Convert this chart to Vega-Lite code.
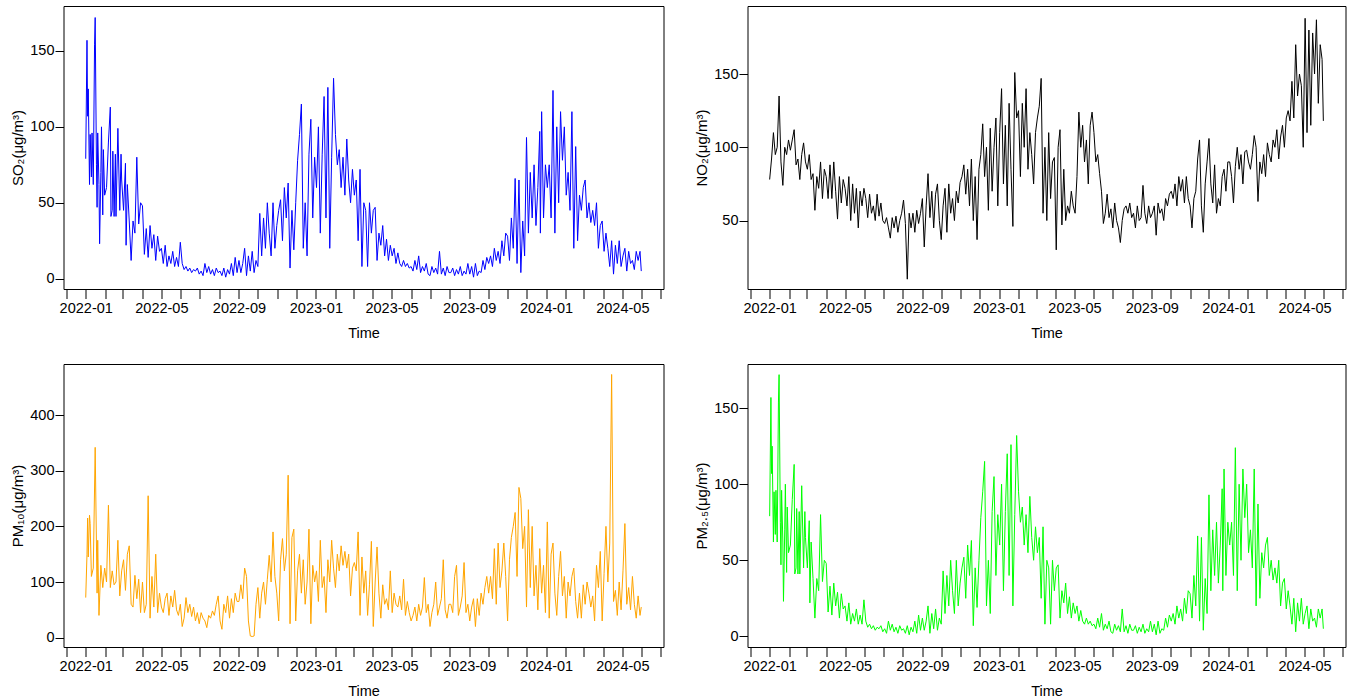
{
"$schema":"https://vega.github.io/schema/vega-lite/v6.json",
"background":"white",
"padding":{"left":9.5,"top":5,"right":0,"bottom":0},
"config":{
 "font":"Liberation Sans",
 "view":{"stroke":"black","strokeWidth":1},
 "axis":{"domain":false,"grid":false,"tickColor":"black","tickWidth":1,"labelColor":"black","labelFont":"Liberation Sans","labelFontSize":14.5,"titleFont":"Liberation Sans","titleFontSize":14.5,"titleFontWeight":"normal","titleColor":"black"},
 "axisX":{"tickSize":9.5,"labelPadding":3,"titlePadding":11,"labelOverlap":false,"labelFlush":false},
 "axisY":{"tickSize":8.5,"labelPadding":1,"titlePadding":4,"titleFontSize":15}
},
"data":{"values":[
{"t":"2022-01-01","s":79,"n":78,"p":72},
{"t":"2022-01-03","s":157,"p":150},
{"t":"2022-01-04","s":107,"n":92,"p":215},
{"t":"2022-01-05","s":125,"p":145},
{"t":"2022-01-07","s":62,"n":110,"p":220},
{"t":"2022-01-08","s":95,"p":205},
{"t":"2022-01-10","s":67,"n":95,"p":110},
{"t":"2022-01-11","s":96},
{"t":"2022-01-13","s":62,"n":100,"p":125},
{"t":"2022-01-15","s":154},
{"t":"2022-01-16","s":172,"n":135,"p":342},
{"t":"2022-01-18","s":75},
{"t":"2022-01-19","s":47,"n":90,"p":80},
{"t":"2022-01-20","s":96,"p":175},
{"t":"2022-01-22","s":62,"n":74,"p":40},
{"t":"2022-01-23","s":23},
{"t":"2022-01-25","s":70,"n":100,"p":130},
{"t":"2022-01-26","s":100},
{"t":"2022-01-28","s":42,"n":95,"p":90},
{"t":"2022-01-29","s":85},
{"t":"2022-01-31","s":55,"n":105,"p":125},
{"t":"2022-02-03","s":60,"n":98,"p":100},
{"t":"2022-02-06","s":90,"n":105,"p":238},
{"t":"2022-02-09","s":113,"n":112,"p":90},
{"t":"2022-02-10","s":41},
{"t":"2022-02-12","s":45,"n":88,"p":120},
{"t":"2022-02-13","s":84},
{"t":"2022-02-15","s":41,"n":92,"p":95},
{"t":"2022-02-17","s":82},
{"t":"2022-02-18","s":41,"n":78,"p":100},
{"t":"2022-02-21","s":99,"n":95,"p":175},
{"t":"2022-02-24","s":45,"n":103,"p":75},
{"t":"2022-02-26","s":82},
{"t":"2022-02-27","s":65,"n":90,"p":120},
{"t":"2022-03-02","s":45,"n":85,"p":140},
{"t":"2022-03-05","s":76,"n":95,"p":85},
{"t":"2022-03-06","s":22},
{"t":"2022-03-08","s":62,"n":78,"p":150},
{"t":"2022-03-11","s":38,"n":82,"p":165},
{"t":"2022-03-14","s":12,"n":57,"p":60},
{"t":"2022-03-17","s":38,"n":80,"p":55},
{"t":"2022-03-20","s":30,"n":72,"p":112},
{"t":"2022-03-23","s":80,"n":90,"p":70},
{"t":"2022-03-26","s":36,"n":65,"p":105},
{"t":"2022-03-29","s":50,"n":85,"p":45},
{"t":"2022-04-01","s":48,"n":80,"p":100},
{"t":"2022-04-04","s":16,"n":65,"p":45},
{"t":"2022-04-07","s":33,"n":88,"p":60},
{"t":"2022-04-10","s":14,"n":65,"p":255},
{"t":"2022-04-13","s":35,"n":90,"p":35},
{"t":"2022-04-16","s":20,"n":70,"p":110},
{"t":"2022-04-19","s":29,"n":51,"p":55},
{"t":"2022-04-22","s":12,"n":80,"p":150},
{"t":"2022-04-25","s":28,"n":62,"p":45},
{"t":"2022-04-28","s":18,"n":78,"p":80},
{"t":"2022-05-01","s":20,"n":72,"p":55},
{"t":"2022-05-04","s":10,"n":60,"p":45},
{"t":"2022-05-07","s":22,"n":80,"p":70},
{"t":"2022-05-10","s":8,"n":50,"p":80},
{"t":"2022-05-13","s":15,"n":75,"p":40},
{"t":"2022-05-16","s":10,"n":55,"p":75},
{"t":"2022-05-19","s":18,"n":72,"p":55},
{"t":"2022-05-22","s":8,"n":45,"p":85},
{"t":"2022-05-25","s":14,"n":70,"p":50},
{"t":"2022-05-28","s":8,"n":60,"p":40},
{"t":"2022-05-31","s":24,"n":72,"p":60},
{"t":"2022-06-03","s":10,"n":65,"p":20},
{"t":"2022-06-06","s":6,"n":52,"p":35},
{"t":"2022-06-09","s":8,"n":68,"p":72},
{"t":"2022-06-12","s":5,"n":55,"p":45},
{"t":"2022-06-15","s":7,"n":60,"p":60},
{"t":"2022-06-18","s":4,"n":50,"p":38},
{"t":"2022-06-21","s":6,"n":68,"p":55},
{"t":"2022-06-24","s":5,"n":53,"p":30},
{"t":"2022-06-27","s":7,"n":62,"p":45},
{"t":"2022-06-30","s":3,"n":50,"p":25},
{"t":"2022-07-03","s":5,"n":48,"p":45},
{"t":"2022-07-06","s":2,"n":52,"p":35},
{"t":"2022-07-09","s":10,"n":45,"p":30},
{"t":"2022-07-12","s":4,"n":38,"p":18},
{"t":"2022-07-15","s":8,"n":52,"p":40},
{"t":"2022-07-18","s":3,"n":45,"p":35},
{"t":"2022-07-21","s":6,"n":53,"p":48},
{"t":"2022-07-24","s":2,"n":42,"p":40},
{"t":"2022-07-27","s":7,"n":50,"p":60},
{"t":"2022-07-30","s":4,"n":55,"p":75},
{"t":"2022-08-02","s":5,"n":64,"p":30},
{"t":"2022-08-05","s":2,"n":48,"p":15},
{"t":"2022-08-08","s":7,"n":10,"p":60},
{"t":"2022-08-11","s":1,"n":55,"p":45},
{"t":"2022-08-14","s":6,"n":45,"p":75},
{"t":"2022-08-17","s":3,"n":55,"p":35},
{"t":"2022-08-20","s":10,"n":42,"p":70},
{"t":"2022-08-23","s":2,"n":57,"p":45},
{"t":"2022-08-26","s":14,"n":48,"p":80},
{"t":"2022-08-29","s":4,"n":55,"p":65},
{"t":"2022-09-01","s":12,"n":65,"p":65},
{"t":"2022-09-04","s":4,"n":32,"p":95},
{"t":"2022-09-07","s":10,"n":60,"p":70},
{"t":"2022-09-10","s":20,"n":82,"p":125},
{"t":"2022-09-13","s":2,"n":52,"p":110},
{"t":"2022-09-16","s":15,"n":70,"p":30},
{"t":"2022-09-19","s":5,"n":45,"p":3},
{"t":"2022-09-22","s":18,"n":68,"p":2},
{"t":"2022-09-25","s":4,"n":75,"p":3},
{"t":"2022-09-28","s":12,"n":50,"p":60},
{"t":"2022-10-01","s":8,"n":37,"p":90},
{"t":"2022-10-04","s":43,"n":60,"p":35},
{"t":"2022-10-07","s":15,"n":72,"p":80},
{"t":"2022-10-10","s":40,"n":42,"p":100},
{"t":"2022-10-13","s":20,"n":75,"p":60},
{"t":"2022-10-16","s":50,"n":55,"p":105},
{"t":"2022-10-19","s":30,"n":65,"p":148},
{"t":"2022-10-22","s":15,"n":50,"p":100},
{"t":"2022-10-25","s":50,"n":70,"p":190},
{"t":"2022-10-28","s":20,"n":62,"p":110},
{"t":"2022-10-31","s":35,"n":76,"p":80},
{"t":"2022-11-03","s":45,"n":80,"p":30},
{"t":"2022-11-06","s":52,"n":88,"p":140},
{"t":"2022-11-09","s":25,"n":68,"p":178},
{"t":"2022-11-12","s":60,"n":85,"p":120},
{"t":"2022-11-15","s":40,"n":60,"p":150},
{"t":"2022-11-18","s":63,"n":92,"p":292},
{"t":"2022-11-21","s":7,"n":50,"p":25},
{"t":"2022-11-24","s":45,"n":80,"p":180},
{"t":"2022-11-27","s":19,"n":37,"p":195},
{"t":"2022-11-30","s":50,"n":85,"p":30},
{"t":"2022-12-03","s":78,"n":95,"p":120},
{"t":"2022-12-06","s":95,"n":116,"p":150},
{"t":"2022-12-09","s":115,"n":80,"p":80},
{"t":"2022-12-12","s":20,"n":100,"p":140},
{"t":"2022-12-15","s":50,"n":57,"p":60},
{"t":"2022-12-18","s":15,"n":113,"p":100},
{"t":"2022-12-21","s":82,"n":70,"p":195},
{"t":"2022-12-24","s":105,"n":100,"p":25},
{"t":"2022-12-27","s":40,"n":120,"p":130},
{"t":"2022-12-30","s":80,"n":60,"p":100},
{"t":"2023-01-02","s":60,"n":110,"p":120},
{"t":"2023-01-05","s":100,"n":140,"p":65},
{"t":"2023-01-08","s":30,"n":75,"p":175},
{"t":"2023-01-11","s":82,"n":115,"p":90},
{"t":"2023-01-14","s":120,"n":60,"p":110},
{"t":"2023-01-17","s":40,"n":130,"p":45},
{"t":"2023-01-20","s":126,"n":85,"p":140},
{"t":"2023-01-23","s":20,"n":46,"p":100},
{"t":"2023-01-26","s":80,"n":151,"p":175},
{"t":"2023-01-29","s":132,"n":120,"p":125},
{"t":"2023-02-01","s":95,"n":125,"p":90},
{"t":"2023-02-04","s":75,"n":80,"p":150},
{"t":"2023-02-07","s":85,"n":130,"p":120},
{"t":"2023-02-10","s":60,"n":100,"p":165},
{"t":"2023-02-13","s":80,"n":140,"p":130},
{"t":"2023-02-16","s":55,"n":85,"p":155},
{"t":"2023-02-19","s":92,"n":110,"p":125},
{"t":"2023-02-22","s":65,"n":95,"p":150},
{"t":"2023-02-25","s":50,"n":75,"p":75},
{"t":"2023-02-28","s":72,"n":110,"p":125},
{"t":"2023-03-03","s":55,"n":120,"p":135},
{"t":"2023-03-06","s":65,"n":128,"p":120},
{"t":"2023-03-09","s":25,"n":147,"p":190},
{"t":"2023-03-12","s":72,"n":55,"p":40},
{"t":"2023-03-15","s":8,"n":100,"p":145},
{"t":"2023-03-18","s":50,"n":50,"p":80},
{"t":"2023-03-21","s":45,"n":110,"p":120},
{"t":"2023-03-24","s":8,"n":65,"p":40},
{"t":"2023-03-27","s":50,"n":90,"p":95},
{"t":"2023-03-30","s":30,"n":93,"p":173},
{"t":"2023-04-02","s":45,"n":30,"p":20},
{"t":"2023-04-05","s":47,"n":100,"p":100},
{"t":"2023-04-08","s":12,"n":112,"p":163},
{"t":"2023-04-11","s":30,"n":47,"p":80},
{"t":"2023-04-14","s":22,"n":85,"p":35},
{"t":"2023-04-17","s":35,"n":50,"p":95},
{"t":"2023-04-20","s":15,"n":60,"p":60},
{"t":"2023-04-23","s":26,"n":55,"p":70},
{"t":"2023-04-26","s":12,"n":70,"p":50},
{"t":"2023-04-29","s":22,"n":60,"p":120},
{"t":"2023-05-02","s":15,"n":55,"p":45},
{"t":"2023-05-05","s":20,"n":80,"p":80},
{"t":"2023-05-08","s":10,"n":124,"p":60},
{"t":"2023-05-11","s":17,"n":100,"p":55},
{"t":"2023-05-14","s":10,"n":115,"p":75},
{"t":"2023-05-17","s":8,"n":90,"p":50},
{"t":"2023-05-20","s":12,"n":105,"p":105},
{"t":"2023-05-23","s":8,"n":75,"p":40},
{"t":"2023-05-26","s":10,"n":115,"p":65},
{"t":"2023-05-29","s":7,"n":124,"p":45},
{"t":"2023-06-01","s":8,"n":110,"p":30},
{"t":"2023-06-04","s":5,"n":90,"p":40},
{"t":"2023-06-07","s":12,"n":95,"p":55},
{"t":"2023-06-10","s":6,"n":82,"p":30},
{"t":"2023-06-13","s":15,"n":70,"p":60},
{"t":"2023-06-16","s":4,"n":48,"p":40},
{"t":"2023-06-19","s":8,"n":55,"p":55},
{"t":"2023-06-22","s":5,"n":68,"p":108},
{"t":"2023-06-25","s":10,"n":52,"p":45},
{"t":"2023-06-28","s":3,"n":58,"p":60},
{"t":"2023-07-01","s":2,"n":45,"p":20},
{"t":"2023-07-04","s":8,"n":62,"p":45},
{"t":"2023-07-07","s":4,"n":50,"p":60},
{"t":"2023-07-10","s":7,"n":45,"p":100},
{"t":"2023-07-13","s":3,"n":35,"p":40},
{"t":"2023-07-16","s":18,"n":50,"p":55},
{"t":"2023-07-19","s":3,"n":58,"p":70},
{"t":"2023-07-22","s":7,"n":60,"p":140},
{"t":"2023-07-25","s":2,"n":55,"p":50},
{"t":"2023-07-28","s":8,"n":62,"p":35},
{"t":"2023-07-31","s":4,"n":52,"p":60},
{"t":"2023-08-03","s":4,"n":55,"p":60},
{"t":"2023-08-06","s":7,"n":45,"p":45},
{"t":"2023-08-09","s":2,"n":60,"p":110},
{"t":"2023-08-12","s":6,"n":50,"p":130},
{"t":"2023-08-15","s":3,"n":52,"p":40},
{"t":"2023-08-18","s":8,"n":74,"p":55},
{"t":"2023-08-21","s":2,"n":55,"p":75},
{"t":"2023-08-24","s":5,"n":48,"p":135},
{"t":"2023-08-27","s":3,"n":60,"p":45},
{"t":"2023-08-30","s":10,"n":52,"p":60},
{"t":"2023-09-02","s":3,"n":55,"p":30},
{"t":"2023-09-05","s":8,"n":60,"p":55},
{"t":"2023-09-08","s":1,"n":40,"p":70},
{"t":"2023-09-11","s":10,"n":62,"p":20},
{"t":"2023-09-14","s":2,"n":55,"p":70},
{"t":"2023-09-17","s":5,"n":58,"p":40},
{"t":"2023-09-20","s":4,"n":50,"p":80},
{"t":"2023-09-23","s":12,"n":65,"p":60},
{"t":"2023-09-26","s":6,"n":60,"p":90},
{"t":"2023-09-29","s":14,"n":68,"p":110},
{"t":"2023-10-02","s":10,"n":70,"p":80},
{"t":"2023-10-05","s":15,"n":65,"p":110},
{"t":"2023-10-08","s":8,"n":75,"p":70},
{"t":"2023-10-11","s":20,"n":60,"p":160},
{"t":"2023-10-14","s":12,"n":80,"p":60},
{"t":"2023-10-17","s":18,"n":70,"p":170},
{"t":"2023-10-20","s":10,"n":78,"p":90},
{"t":"2023-10-23","s":25,"n":62,"p":120},
{"t":"2023-10-26","s":15,"n":80,"p":170},
{"t":"2023-10-29","s":30,"n":65,"p":110},
{"t":"2023-11-01","s":28,"n":60,"p":30},
{"t":"2023-11-04","s":12,"n":45,"p":140},
{"t":"2023-11-07","s":40,"n":65,"p":180},
{"t":"2023-11-10","s":20,"n":70,"p":200},
{"t":"2023-11-13","s":66,"n":92,"p":225},
{"t":"2023-11-16","s":10,"n":105,"p":110},
{"t":"2023-11-19","s":65,"n":60,"p":270},
{"t":"2023-11-22","s":4,"n":42,"p":250},
{"t":"2023-11-25","s":38,"n":75,"p":160},
{"t":"2023-11-28","s":15,"n":90,"p":200},
{"t":"2023-12-01","s":93,"n":106,"p":55},
{"t":"2023-12-04","s":30,"n":75,"p":230},
{"t":"2023-12-07","s":70,"n":62,"p":90},
{"t":"2023-12-10","s":40,"n":88,"p":200},
{"t":"2023-12-13","s":75,"n":55,"p":75},
{"t":"2023-12-16","s":35,"n":65,"p":130},
{"t":"2023-12-19","s":60,"n":60,"p":50},
{"t":"2023-12-22","s":97,"n":80,"p":160},
{"t":"2023-12-23","s":30},
{"t":"2023-12-25","s":110,"n":85,"p":80},
{"t":"2023-12-28","s":40,"n":70,"p":130},
{"t":"2023-12-31","s":75,"n":90,"p":45},
{"t":"2024-01-03","s":60,"n":90,"p":208},
{"t":"2024-01-06","s":75,"n":80,"p":35},
{"t":"2024-01-09","s":40,"n":62,"p":150},
{"t":"2024-01-12","s":124,"n":87,"p":170},
{"t":"2024-01-15","s":30,"n":100,"p":80},
{"t":"2024-01-18","s":100,"n":85,"p":40},
{"t":"2024-01-21","s":50,"n":95,"p":110},
{"t":"2024-01-24","s":110,"n":75,"p":155},
{"t":"2024-01-27","s":78,"n":97,"p":75},
{"t":"2024-01-30","s":100,"n":98,"p":110},
{"t":"2024-02-02","s":55,"n":90,"p":35},
{"t":"2024-02-05","s":70,"n":85,"p":100},
{"t":"2024-02-08","s":45,"n":95,"p":75},
{"t":"2024-02-11","s":110,"n":108,"p":110},
{"t":"2024-02-14","s":20,"n":100,"p":125},
{"t":"2024-02-17","s":87,"n":63,"p":65},
{"t":"2024-02-20","s":25,"n":90,"p":35},
{"t":"2024-02-23","s":55,"n":82,"p":80},
{"t":"2024-02-26","s":45,"n":95,"p":35},
{"t":"2024-02-29","s":60,"n":80,"p":95},
{"t":"2024-03-03","s":65,"n":103,"p":60},
{"t":"2024-03-06","s":40,"n":95,"p":100},
{"t":"2024-03-09","s":50,"n":90,"p":80},
{"t":"2024-03-12","s":37,"n":105,"p":55},
{"t":"2024-03-15","s":45,"n":100,"p":75},
{"t":"2024-03-18","s":35,"n":112,"p":30},
{"t":"2024-03-21","s":50,"n":92,"p":130},
{"t":"2024-03-24","s":20,"n":107,"p":90},
{"t":"2024-03-27","s":35,"n":115,"p":155},
{"t":"2024-03-30","s":38,"n":100,"p":30},
{"t":"2024-04-02","s":18,"n":120,"p":115},
{"t":"2024-04-05","s":30,"n":125,"p":200},
{"t":"2024-04-08","s":20,"n":118,"p":100},
{"t":"2024-04-11","s":8,"n":145,"p":170},
{"t":"2024-04-14","s":25,"n":120,"p":473},
{"t":"2024-04-17","s":3,"n":170,"p":65},
{"t":"2024-04-20","s":22,"n":135,"p":85},
{"t":"2024-04-23","s":10,"n":150,"p":40},
{"t":"2024-04-26","s":25,"n":142,"p":100},
{"t":"2024-04-29","s":8,"n":100,"p":50},
{"t":"2024-05-02","s":15,"n":188,"p":120},
{"t":"2024-05-05","s":20,"n":110,"p":205},
{"t":"2024-05-08","s":5,"n":180,"p":60},
{"t":"2024-05-11","s":18,"n":115,"p":90},
{"t":"2024-05-14","s":10,"n":178,"p":50},
{"t":"2024-05-17","s":12,"n":150,"p":110},
{"t":"2024-05-20","s":6,"n":187,"p":60},
{"t":"2024-05-23","s":18,"n":130,"p":35},
{"t":"2024-05-26","s":12,"n":170,"p":75},
{"t":"2024-05-29","s":18,"n":160,"p":40},
{"t":"2024-05-31","s":5,"n":118,"p":55}
]},
"columns":2,
"spacing":{"row":23,"column":29},
"concat":[
{"width":600,"height":283,
 "transform":[{"filter":"isValid(datum.s)"}],
 "mark":{"type":"line","color":"#0000ff","strokeWidth":1},
 "encoding":{
  "x":{"field":"t","type":"temporal","scale":{"type":"utc","domain":[{"year":2021,"month":11,"date":26,"hours":18,"utc":true},{"year":2024,"month":7,"date":5,"hours":6,"utc":true}]},
   "axis":{"title":"Time","tickCount":{"interval":"month","step":1},"labelExpr":"utcmonth(datum.value) % 4 == 0 ? utcFormat(datum.value, '%Y-%m') : ''"}},
  "y":{"field":"s","type":"quantitative","scale":{"domain":[-6.8,179.6],"nice":false,"zero":false},"axis":{"values":[0,50,100,150],"title":"SO₂(μg/m³)"}}
 }},
{"width":598,"height":283,
 "transform":[{"filter":"isValid(datum.n)"}],
 "mark":{"type":"line","color":"#000000","strokeWidth":1},
 "encoding":{
  "x":{"field":"t","type":"temporal","scale":{"type":"utc","domain":[{"year":2021,"month":11,"date":26,"hours":18,"utc":true},{"year":2024,"month":7,"date":5,"hours":6,"utc":true}]},
   "axis":{"title":"Time","tickCount":{"interval":"month","step":1},"labelExpr":"utcmonth(datum.value) % 4 == 0 ? utcFormat(datum.value, '%Y-%m') : ''"}},
  "y":{"field":"n","type":"quantitative","scale":{"domain":[3.3,196.4],"nice":false,"zero":false},"axis":{"values":[50,100,150],"title":"NO₂(μg/m³)"}}
 }},
{"width":600,"height":283,
 "transform":[{"filter":"isValid(datum.p)"}],
 "mark":{"type":"line","color":"#ffa500","strokeWidth":1},
 "encoding":{
  "x":{"field":"t","type":"temporal","scale":{"type":"utc","domain":[{"year":2021,"month":11,"date":26,"hours":18,"utc":true},{"year":2024,"month":7,"date":5,"hours":6,"utc":true}]},
   "axis":{"title":"Time","tickCount":{"interval":"month","step":1},"labelExpr":"utcmonth(datum.value) % 4 == 0 ? utcFormat(datum.value, '%Y-%m') : ''"}},
  "y":{"field":"p","type":"quantitative","scale":{"domain":[-16.8,491.8],"nice":false,"zero":false},"axis":{"values":[0,100,200,300,400],"title":"PM₁₀(μg/m³)"}}
 }},
{"width":598,"height":283,
 "transform":[{"filter":"isValid(datum.s)"}],
 "mark":{"type":"line","color":"#00ff00","strokeWidth":1},
 "encoding":{
  "x":{"field":"t","type":"temporal","scale":{"type":"utc","domain":[{"year":2021,"month":11,"date":26,"hours":18,"utc":true},{"year":2024,"month":7,"date":5,"hours":6,"utc":true}]},
   "axis":{"title":"Time","tickCount":{"interval":"month","step":1},"labelExpr":"utcmonth(datum.value) % 4 == 0 ? utcFormat(datum.value, '%Y-%m') : ''"}},
  "y":{"field":"s","type":"quantitative","scale":{"domain":[-7,179],"nice":false,"zero":false},"axis":{"values":[0,50,100,150],"title":"PM₂.₅(μg/m³)"}}
 }}
]
}
